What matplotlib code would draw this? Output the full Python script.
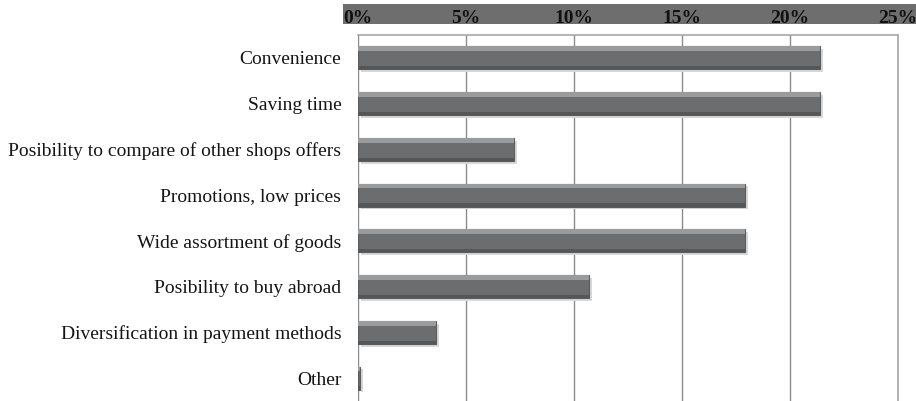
import matplotlib
matplotlib.use("Agg")
import matplotlib.pyplot as plt
from matplotlib.patches import Rectangle
from matplotlib.ticker import FuncFormatter

categories = [
    "Convenience",
    "Saving time",
    "Posibility to compare of other shops offers",
    "Promotions, low prices",
    "Wide assortment of goods",
    "Posibility to buy abroad",
    "Diversification in payment methods",
    "Other",
]
shares = [21.4, 21.4, 7.2, 17.9, 17.9, 10.7, 3.6, 0.1]
x_ticks = [0, 5, 10, 15, 20, 25]

W, H = 916, 401
fig = plt.figure(figsize=(W / 100, H / 100), dpi=100)
fig.patch.set_facecolor("white")

# plot area in pixel terms
left, right, top, bottom = 358, 898, 35, 401
ax = fig.add_axes([left / W, 1 - bottom / H, (right - left) / W, (bottom - top) / H])
ax.set_zorder(2)
ax.patch.set_alpha(0)

# dark band behind the percentage scale
fig.patches.append(Rectangle((343 / W, 1 - 24 / H), (W - 343) / W, 20 / H,
                             transform=fig.transFigure, facecolor="#6e6e6e",
                             edgecolor="none", zorder=-1))

ypos = list(range(len(categories)))
bh = 0.5

# soft drop shadow
ax.barh([y + 0.06 for y in ypos], shares, height=bh, left=0.15,
        color="#d8d8d8", edgecolor="none", zorder=2)
# main bars
ax.barh(ypos, shares, height=bh, color="#6c6d6f", edgecolor="#5a5b5d",
        linewidth=0.8, zorder=3)
# bevel highlight along the top of each bar
ax.barh([y - bh / 2 + 0.05 for y in ypos], shares, height=0.1,
        color="#9a9b9d", edgecolor="none", zorder=4)
# darker lower edge
ax.barh([y + bh / 2 - 0.035 for y in ypos], shares, height=0.07,
        color="#555658", edgecolor="none", zorder=4)

ax.set_xlim(0, 25)
ax.set_ylim(len(categories) - 0.5, -0.5)
ax.set_xticks(x_ticks)
ax.xaxis.set_major_formatter(FuncFormatter(lambda v, p: f"{v:.0f}%"))
ax.xaxis.tick_top()
ax.tick_params(axis="x", length=0, pad=6, labelsize=14, labelcolor="#111111")
ax.set_yticks(ypos)
ax.set_yticklabels(categories)
ax.tick_params(axis="y", length=0, pad=12, labelsize=14, labelcolor="#141414")
for lbl in ax.get_xticklabels() + ax.get_yticklabels():
    lbl.set_fontfamily("Liberation Serif")
for lbl in ax.get_xticklabels():
    lbl.set_fontweight("bold")

ax.grid(axis="x", color="#8c8c8c", linewidth=1.0, zorder=1)
ax.set_axisbelow(True)
for side in ["left", "bottom"]:
    ax.spines[side].set_visible(False)
for side in ["top", "right"]:
    ax.spines[side].set_color("#a8a8a8")
    ax.spines[side].set_linewidth(1.2)

fig.savefig("out.png", dpi=100)
